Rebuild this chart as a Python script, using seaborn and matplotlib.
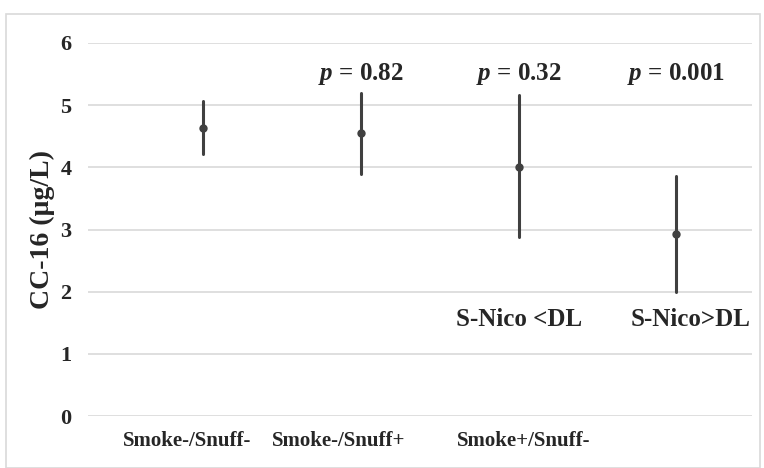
import matplotlib
matplotlib.use("Agg")
import matplotlib.pyplot as plt
import seaborn as sns
import pandas as pd
from matplotlib.patches import Rectangle

groups = ["G1", "G2", "G3", "G4"]
means = [4.63, 4.55, 4.00, 2.93]
lows = [4.21, 3.89, 2.88, 1.99]
highs = [5.06, 5.19, 5.16, 3.86]
pvals = ["", "0.82", "0.32", "0.001"]
sub_labels = ["", "", "S-Nico <DL", "S-Nico>DL"]
cat_labels = ["Smoke-/Snuff-", "Smoke-/Snuff+", "Smoke+/Snuff-"]
cat_label_pos = [-0.10, 0.86, 2.03]
yticks = [0, 1, 2, 3, 4, 5, 6]

rows = []
for g, lo, m, hi in zip(groups, lows, means, highs):
    for v in (lo, m, hi):
        rows.append({"group": g, "value": v})
df = pd.DataFrame(rows)

sns.set_theme(style="white")
plt.rcParams["font.family"] = ["Liberation Serif", "DejaVu Serif"]
plt.rcParams["mathtext.fontset"] = "custom"
plt.rcParams["mathtext.it"] = "Liberation Serif:italic:bold"
plt.rcParams["mathtext.rm"] = "Liberation Serif:bold"

fig = plt.figure(figsize=(7.64, 4.68), dpi=100)
ax = fig.add_axes([88/764, 1-416/468, (752-88)/764, (416-43)/468])

fig.patches.append(Rectangle((6/764, 0), 754/764, 1-14/468, transform=fig.transFigure,
                             fill=False, edgecolor="#d9d9d9", linewidth=1.2, zorder=0))

sns.pointplot(data=df, x="group", y="value", estimator="median",
              errorbar=("pi", 100), linestyle="none", color="#404040",
              markers="o", markersize=4.2, err_kws={"linewidth": 2.2},
              ax=ax)
for line in ax.lines:
    if line.get_marker() == "o":
        line.set_markerfacecolor("#707070")
        line.set_markeredgecolor("#404040")
        line.set_markeredgewidth(1.8)

ax.set_xlim(-0.73, 3.48)
ax.set_ylim(0, 6)
ax.set_yticks(yticks)
ax.set_yticklabels([str(t) for t in yticks], fontsize=16, fontweight="bold")
ax.tick_params(axis="y", length=0, pad=12)
ax.set_xticks([])
ax.set_xlabel("")
ax.set_ylabel("CC-16 (µg/L)", fontsize=20, fontweight="bold", labelpad=4)
ax.yaxis.grid(True, color="#d9d9d9", linewidth=1.2)
ax.set_axisbelow(True)
for s in ax.spines.values():
    s.set_visible(False)

for i, p in enumerate(pvals):
    if p:
        ax.text(i, 5.5, r"$p$" + " = " + p, ha="center", va="center",
                fontsize=18, fontweight="bold")
for i, s in enumerate(sub_labels):
    if s:
        ax.text(i if i == 2 else i + 0.09, 1.55, s, ha="center", va="center",
                fontsize=18, fontweight="bold")
for x, lab in zip(cat_label_pos, cat_labels):
    ax.text(x, -0.4, lab, ha="center", va="center", fontsize=15, fontweight="bold")

fig.savefig("out.png", dpi=100)
